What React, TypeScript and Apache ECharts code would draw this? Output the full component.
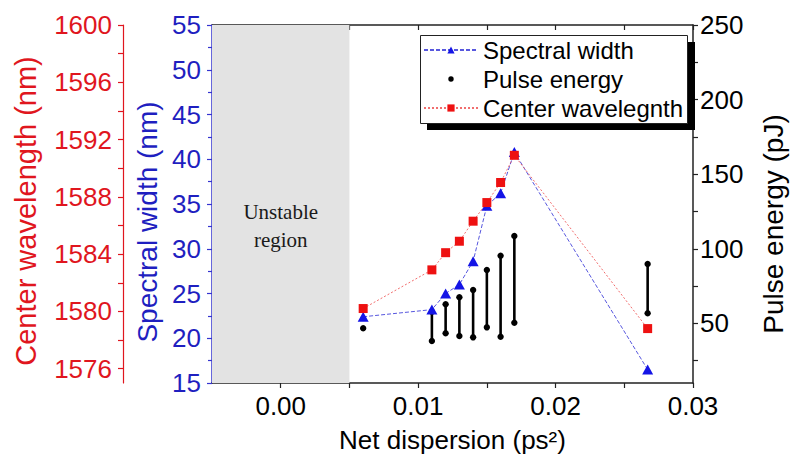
import React, { useEffect, useRef } from "react";
import * as echarts from "echarts";

// ---- data ----
const dispersion = [0.006, 0.011, 0.012, 0.013, 0.014, 0.015, 0.016, 0.017, 0.0267];
const spectralWidth = [22.4, 23.2, 25.0, 26.0, 28.6, 34.8, 36.2, 40.8, 16.5];
const centerWavelength = [1580.2, 1582.9, 1584.1, 1584.9, 1586.3, 1587.6, 1589.0, 1590.9, 1578.8];
const pulseEnergyMin = [46.7, 38.2, 43.3, 41.5, 40.6, 47.3, 41.0, 50.4, 56.7];
const pulseEnergyMax = [46.7, 57.8, 62.8, 67.5, 72.3, 85.8, 95.3, 108.5, 89.8];

const unstableRegion = [-0.005, 0.005];

const xLabelValues = [0, 0.01, 0.02, 0.03];
const xTickValues = [0, 0.005, 0.01, 0.015, 0.02, 0.025, 0.03];
const wlLabelValues = [1576, 1580, 1584, 1588, 1592, 1596, 1600];
const wlTickValues = [1576, 1578, 1580, 1582, 1584, 1586, 1588, 1590, 1592, 1594, 1596, 1598, 1600];
const peLabelValues = [50, 100, 150, 200, 250];
const peTickValues = [25, 50, 75, 100, 125, 150, 175, 200, 225, 250];

const FONT = "Liberation Sans, Arial, sans-serif";
const RED = "#e0161e";
const BLUE = "#1f1fc0";
const BLUE_LINE = "#3434d0";

export default function App() {
  const ref = useRef<HTMLDivElement>(null);

  useEffect(() => {
    if (!ref.current) return;
    const chart = echarts.init(ref.current, undefined, { renderer: "svg" });

    const pulseData = dispersion.map((x, i) => [x, pulseEnergyMin[i], pulseEnergyMax[i]]);
    const swData = dispersion.map((x, i) => [x, spectralWidth[i]]);
    const cwData = dispersion.map((x, i) => [x, centerWavelength[i]]);

    const option: any = {
      animation: false,
      backgroundColor: "#ffffff",
      textStyle: { fontFamily: FONT },
      grid: { left: 212, right: 98, top: 25, bottom: 83 },
      legend: {
        orient: "vertical",
        left: 423,
        top: 38,
        padding: 0,
        itemGap: 5,
        itemWidth: 54,
        itemHeight: 9,
        z: 6,
        textStyle: { fontFamily: FONT, fontSize: 24, color: "#000" },
        data: [
          { name: "Spectral width" },
          {
            name: "Pulse energy",
            icon: "path://M0,0 M10,10 M5,2 A3,3 0 1,1 5,8 A3,3 0 1,1 5,2 Z",
          },
          { name: "Center wavelegnth" },
        ],
      },
      graphic: [
        {
          type: "rect",
          z: 5,
          left: 427,
          top: 42,
          shape: { width: 268, height: 88 },
          style: { fill: "#000" },
        },
        {
          type: "rect",
          z: 5,
          left: 420,
          top: 35,
          shape: { width: 267, height: 88 },
          style: { fill: "#fff", stroke: "#222", lineWidth: 1 },
        },
      ],
      xAxis: [
        {
          type: "value",
          position: "bottom",
          min: unstableRegion[0],
          max: 0.03,
          name: "Net dispersion (ps²)",
          nameLocation: "middle",
          nameGap: 44,
          nameTextStyle: { fontFamily: FONT, fontSize: 26, color: "#000" },
          axisLine: { onZero: false, lineStyle: { color: "#222", width: 1.5 } },
          axisTick: {
            show: true,
            inside: false,
            length: 5,
            customValues: xTickValues,
            lineStyle: { color: "#222", width: 1.2 },
          },
          axisLabel: {
            customValues: xLabelValues,
            formatter: (v: number) => v.toFixed(2),
            fontFamily: FONT,
            fontSize: 26,
            color: "#000",
            margin: 10,
          },
          splitLine: { show: false },
        },
        {
          type: "value",
          position: "top",
          min: unstableRegion[0],
          max: 0.03,
          axisLine: { onZero: false, lineStyle: { color: "#222", width: 1.5 } },
          axisTick: {
            show: true,
            inside: true,
            length: 5,
            customValues: xTickValues,
            lineStyle: { color: "#222", width: 1.2 },
          },
          axisLabel: { show: false },
          splitLine: { show: false },
        },
      ],
      yAxis: [
        {
          type: "value",
          position: "left",
          offset: 0,
          min: 15,
          max: 55,
          interval: 5,
          name: "Spectral width (nm)",
          nameLocation: "middle",
          nameGap: 48,
          nameTextStyle: { fontFamily: FONT, fontSize: 28, color: BLUE, padding: [0, 36, 0, 0] },
          axisLine: { show: true, onZero: false, lineStyle: { color: BLUE_LINE, width: 1.5 } },
          axisTick: { show: true, inside: false, length: 5, lineStyle: { color: BLUE_LINE, width: 1.2 } },
          minorTick: { show: true, splitNumber: 2, length: 4, lineStyle: { color: BLUE_LINE, width: 1.2 } },
          axisLabel: { fontFamily: FONT, fontSize: 26, color: BLUE, margin: 11 },
          splitLine: { show: false },
          minorSplitLine: { show: false },
        },
        {
          type: "value",
          position: "left",
          offset: 89,
          min: 1575,
          max: 1600,
          name: "Center wavelength (nm)",
          nameLocation: "middle",
          nameGap: 83,
          nameTextStyle: { fontFamily: FONT, fontSize: 29, color: RED, padding: [0, 14, 0, 0] },
          axisLine: { show: true, onZero: false, lineStyle: { color: RED, width: 1.2 } },
          axisTick: {
            show: true,
            inside: false,
            length: 5,
            customValues: wlTickValues,
            lineStyle: { color: RED, width: 1.2 },
          },
          axisLabel: {
            customValues: wlLabelValues,
            formatter: (v: number) => String(v),
            fontFamily: FONT,
            fontSize: 26,
            color: RED,
            margin: 11,
          },
          splitLine: { show: false },
        },
        {
          type: "value",
          position: "right",
          offset: 0,
          min: 10,
          max: 250,
          name: "Pulse energy (pJ)",
          nameLocation: "middle",
          nameGap: 66,
          nameTextStyle: { fontFamily: FONT, fontSize: 28, color: "#000", padding: [0, 40, 0, 0] },
          axisLine: { show: true, onZero: false, lineStyle: { color: "#222", width: 1.5 } },
          axisTick: {
            show: true,
            inside: false,
            length: 5,
            customValues: peTickValues,
            lineStyle: { color: "#222", width: 1.2 },
          },
          axisLabel: {
            customValues: peLabelValues,
            formatter: (v: number) => String(v),
            fontFamily: FONT,
            fontSize: 26,
            color: "#000",
            margin: 7,
          },
          splitLine: { show: false },
        },
      ],
      series: [
        {
          name: "Pulse energy",
          type: "custom",
          xAxisIndex: 0,
          yAxisIndex: 2,
          encode: { x: 0, y: [1, 2] },
          itemStyle: { color: "#000" },
          data: pulseData,
          z: 3,
          renderItem: (params: any, api: any) => {
            const x = api.value(0);
            const lo = api.value(1);
            const hi = api.value(2);
            const p1 = api.coord([x, lo]);
            const p2 = api.coord([x, hi]);
            const children: any[] = [];
            if (hi !== lo) {
              children.push({
                type: "line",
                shape: { x1: p1[0], y1: p1[1], x2: p2[0], y2: p2[1] },
                style: { stroke: "#000", lineWidth: 2.6 },
              });
              children.push({
                type: "circle",
                shape: { cx: p1[0], cy: p1[1], r: 3.2 },
                style: { fill: "#000" },
              });
            }
            children.push({
              type: "circle",
              shape: { cx: p2[0], cy: p2[1], r: 3.2 },
              style: { fill: "#000" },
            });
            return { type: "group", children };
          },
        },
        {
          name: "Spectral width",
          type: "line",
          xAxisIndex: 0,
          yAxisIndex: 0,
          data: swData,
          symbol: "triangle",
          symbolSize: [11, 10],
          z: 4,
          itemStyle: { color: "#1414e6" },
          lineStyle: { color: "#3a3ad8", width: 1, type: [4, 2], opacity: 0.85 },
          markArea: {
            silent: true,
            z: 1,
            itemStyle: { color: "#e3e3e3" },
            label: {
              show: true,
              position: "inside",
              offset: [0, 22],
              fontFamily: "Liberation Serif, Times New Roman, serif",
              fontSize: 21,
              lineHeight: 28,
              color: "#1a1a1a",
            },
            data: [[{ name: "Unstable\nregion", xAxis: unstableRegion[0] }, { xAxis: unstableRegion[1] }]],
          },
        },
        {
          name: "Center wavelegnth",
          type: "line",
          xAxisIndex: 0,
          yAxisIndex: 1,
          data: cwData,
          symbol: "rect",
          symbolSize: 9,
          z: 5,
          itemStyle: { color: "#ee1111" },
          lineStyle: { color: "#ee5555", width: 1, type: [2, 2], opacity: 0.85 },
        },
      ],
    };

    chart.setOption(option);
    return () => {
      chart.dispose();
    };
  }, []);

  return (
    <div
      ref={ref}
      style={{ position: "absolute", left: 0, top: 0, width: 795, height: 466 }}
    />
  );
}
